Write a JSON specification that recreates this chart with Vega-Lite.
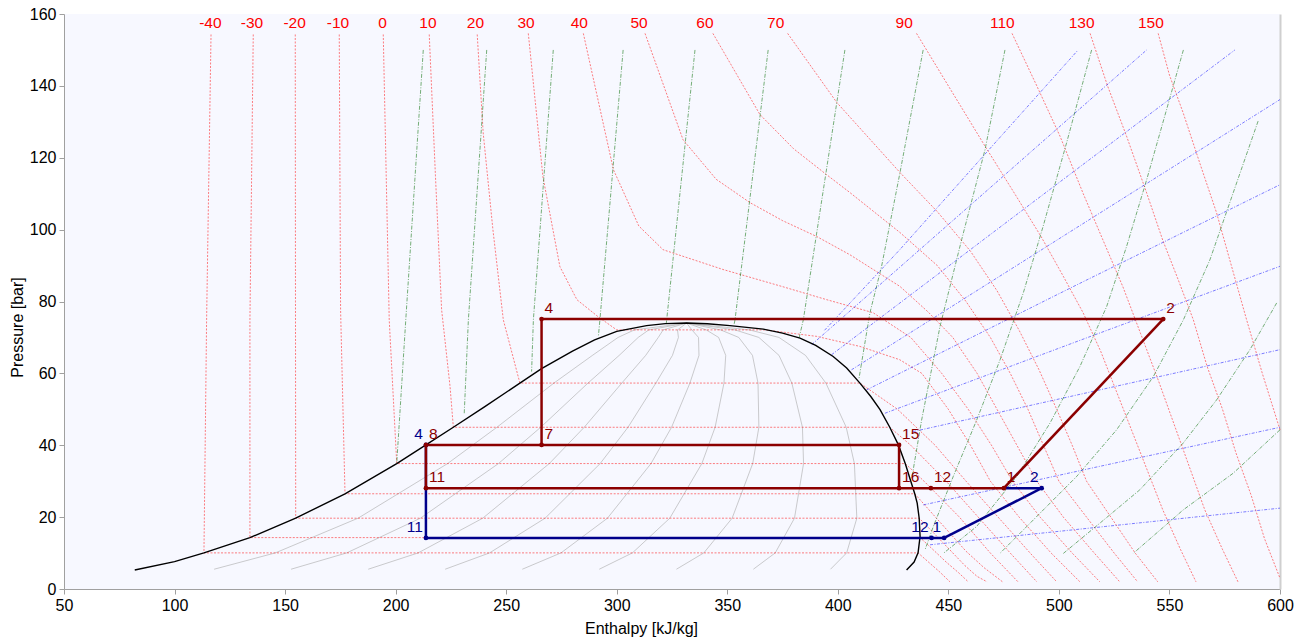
{
"$schema": "https://vega.github.io/schema/vega-lite/v6.json",
"width": 1216, "height": 575,
"autosize": {"type": "none"},
"padding": {"left": 64, "top": 14, "right": 23, "bottom": 53},
"background": "white",
"config": {
 "view": {"fill": "#F7F8FF", "stroke": null},
 "font": "Liberation Sans",
 "axis": {"grid": false, "labelFontSize": 16, "titleFontSize": 16, "titleFontWeight": "normal", "labelColor": "#000", "titleColor": "#000", "domainColor": "#A0A0A0", "tickColor": "#A0A0A0", "tickSize": 5, "labelPadding": 3}
},
"datasets": {
 "dome": [
  {"id":"d","i":0,"h":82,"p":5.3},{"id":"d","i":1,"h":100,"p":7.6},{"id":"d","i":2,"h":113.3,"p":10.05},{"id":"d","i":3,"h":134.1,"p":14.3},{"id":"d","i":4,"h":154.8,"p":19.7},{"id":"d","i":5,"h":177.1,"p":26.5},{"id":"d","i":6,"h":200.5,"p":34.9},{"id":"d","i":7,"h":213.7,"p":40.1},{"id":"d","i":8,"h":226.1,"p":45.0},{"id":"d","i":9,"h":240,"p":50.6},{"id":"d","i":10,"h":256.2,"p":57.3},{"id":"d","i":11,"h":266,"p":61.3},{"id":"d","i":12,"h":280,"p":66.2},{"id":"d","i":13,"h":290,"p":69.3},{"id":"d","i":14,"h":300,"p":71.7},{"id":"d","i":15,"h":313.5,"p":73.3},{"id":"d","i":16,"h":322,"p":73.85},{"id":"d","i":17,"h":331.6,"p":74.0},{"id":"d","i":18,"h":341,"p":73.8},{"id":"d","i":19,"h":351.2,"p":73.3},{"id":"d","i":20,"h":366.3,"p":72.3},{"id":"d","i":21,"h":375,"p":71.2},{"id":"d","i":22,"h":382.9,"p":69.8},{"id":"d","i":23,"h":390,"p":67.8},{"id":"d","i":24,"h":397.9,"p":64.7},{"id":"d","i":25,"h":404,"p":61.5},{"id":"d","i":26,"h":410,"p":57.3},{"id":"d","i":27,"h":415,"p":53.5},{"id":"d","i":28,"h":419.1,"p":49.9},{"id":"d","i":29,"h":423.5,"p":45.0},{"id":"d","i":30,"h":427.4,"p":40.1},{"id":"d","i":31,"h":430.5,"p":34.9},{"id":"d","i":32,"h":433,"p":30},{"id":"d","i":33,"h":434.8,"p":26.5},{"id":"d","i":34,"h":435.9,"p":23.9},{"id":"d","i":35,"h":436.8,"p":19.7},{"id":"d","i":36,"h":437.2,"p":14.6},{"id":"d","i":37,"h":436.3,"p":10.05},{"id":"d","i":38,"h":434.5,"p":7.5},{"id":"d","i":39,"h":431.1,"p":5.3}
 ],
 "qual": [
  {"id":"q1","i":0,"h":117.9,"p":5.5},{"id":"q1","i":1,"h":145.6,"p":10.05},{"id":"q1","i":2,"h":183,"p":19.7},{"id":"q1","i":3,"h":223.5,"p":34.9},{"id":"q1","i":4,"h":245.8,"p":45},{"id":"q1","i":5,"h":271.6,"p":57.3},{"id":"q1","i":6,"h":289,"p":65},{"id":"q1","i":7,"h":300.6,"p":70},{"id":"q1","i":8,"h":308,"p":72.1},{"id":"q1","i":9,"h":331.6,"p":74},
  {"id":"q2","i":0,"h":152.7,"p":5.5},{"id":"q2","i":1,"h":177.9,"p":10.05},{"id":"q2","i":2,"h":211.2,"p":19.7},{"id":"q2","i":3,"h":246.5,"p":34.9},{"id":"q2","i":4,"h":265.6,"p":45},{"id":"q2","i":5,"h":287,"p":57.3},{"id":"q2","i":6,"h":301.1,"p":65},{"id":"q2","i":7,"h":309.7,"p":70},{"id":"q2","i":8,"h":314.5,"p":72.1},{"id":"q2","i":9,"h":331.6,"p":74},
  {"id":"q3","i":0,"h":187.6,"p":5.5},{"id":"q3","i":1,"h":210.2,"p":10.05},{"id":"q3","i":2,"h":239.4,"p":19.7},{"id":"q3","i":3,"h":269.5,"p":34.9},{"id":"q3","i":4,"h":285.3,"p":45},{"id":"q3","i":5,"h":302.3,"p":57.3},{"id":"q3","i":6,"h":313.1,"p":65},{"id":"q3","i":7,"h":318.8,"p":70},{"id":"q3","i":8,"h":321,"p":72.1},{"id":"q3","i":9,"h":331.6,"p":74},
  {"id":"q4","i":0,"h":222.4,"p":5.5},{"id":"q4","i":1,"h":242.5,"p":10.05},{"id":"q4","i":2,"h":267.6,"p":19.7},{"id":"q4","i":3,"h":292.5,"p":34.9},{"id":"q4","i":4,"h":305.1,"p":45},{"id":"q4","i":5,"h":317.7,"p":57.3},{"id":"q4","i":6,"h":325.2,"p":65},{"id":"q4","i":7,"h":327.9,"p":70},{"id":"q4","i":8,"h":327.5,"p":72.1},{"id":"q4","i":9,"h":331.6,"p":74},
  {"id":"q5","i":0,"h":257.3,"p":5.5},{"id":"q5","i":1,"h":274.8,"p":10.05},{"id":"q5","i":2,"h":295.8,"p":19.7},{"id":"q5","i":3,"h":315.5,"p":34.9},{"id":"q5","i":4,"h":324.8,"p":45},{"id":"q5","i":5,"h":333.1,"p":57.3},{"id":"q5","i":6,"h":337.2,"p":65},{"id":"q5","i":7,"h":337,"p":70},{"id":"q5","i":8,"h":334,"p":72.1},{"id":"q5","i":9,"h":331.6,"p":74},
  {"id":"q6","i":0,"h":292.1,"p":5.5},{"id":"q6","i":1,"h":307.1,"p":10.05},{"id":"q6","i":2,"h":324,"p":19.7},{"id":"q6","i":3,"h":338.5,"p":34.9},{"id":"q6","i":4,"h":344.5,"p":45},{"id":"q6","i":5,"h":348.5,"p":57.3},{"id":"q6","i":6,"h":349.3,"p":65},{"id":"q6","i":7,"h":346.1,"p":70},{"id":"q6","i":8,"h":340.5,"p":72.1},{"id":"q6","i":9,"h":331.6,"p":74},
  {"id":"q7","i":0,"h":327,"p":5.5},{"id":"q7","i":1,"h":339.4,"p":10.05},{"id":"q7","i":2,"h":352.2,"p":19.7},{"id":"q7","i":3,"h":361.5,"p":34.9},{"id":"q7","i":4,"h":364.3,"p":45},{"id":"q7","i":5,"h":363.9,"p":57.3},{"id":"q7","i":6,"h":361.4,"p":65},{"id":"q7","i":7,"h":355.2,"p":70},{"id":"q7","i":8,"h":347,"p":72.1},{"id":"q7","i":9,"h":331.6,"p":74},
  {"id":"q8","i":0,"h":361.8,"p":5.5},{"id":"q8","i":1,"h":371.7,"p":10.05},{"id":"q8","i":2,"h":380.4,"p":19.7},{"id":"q8","i":3,"h":384.5,"p":34.9},{"id":"q8","i":4,"h":384,"p":45},{"id":"q8","i":5,"h":379.2,"p":57.3},{"id":"q8","i":6,"h":373.4,"p":65},{"id":"q8","i":7,"h":364.3,"p":70},{"id":"q8","i":8,"h":353.5,"p":72.1},{"id":"q8","i":9,"h":331.6,"p":74},
  {"id":"q9","i":0,"h":396.7,"p":5.5},{"id":"q9","i":1,"h":404,"p":10.05},{"id":"q9","i":2,"h":408.6,"p":19.7},{"id":"q9","i":3,"h":407.5,"p":34.9},{"id":"q9","i":4,"h":403.8,"p":45},{"id":"q9","i":5,"h":394.6,"p":57.3},{"id":"q9","i":6,"h":385.4,"p":65},{"id":"q9","i":7,"h":373.4,"p":70},{"id":"q9","i":8,"h":360,"p":72.1},{"id":"q9","i":9,"h":331.6,"p":74}
 ],
 "isoT": [
  {"id":"-40","i":0,"h":116.5,"p":154.3},{"id":"-40","i":1,"h":114.5,"p":74.9},{"id":"-40","i":2,"h":113.3,"p":10.05},{"id":"-40","i":3,"h":436.3,"p":10.05},{"id":"-40","i":4,"h":441,"p":7.5},{"id":"-40","i":5,"h":446,"p":4.8},{"id":"-40","i":6,"h":450.7,"p":2},
  {"id":"-30","i":0,"h":135.6,"p":154.3},{"id":"-30","i":1,"h":134.1,"p":74.9},{"id":"-30","i":2,"h":134.1,"p":14.3},{"id":"-30","i":3,"h":437.2,"p":14.3},{"id":"-30","i":4,"h":443,"p":11},{"id":"-30","i":5,"h":449,"p":7.5},{"id":"-30","i":6,"h":454.5,"p":4.6},{"id":"-30","i":7,"h":459,"p":2},
  {"id":"-20","i":0,"h":154.6,"p":154.3},{"id":"-20","i":1,"h":154.7,"p":80},{"id":"-20","i":2,"h":154.8,"p":19.7},{"id":"-20","i":3,"h":436.8,"p":19.7},{"id":"-20","i":4,"h":443.5,"p":15.5},{"id":"-20","i":5,"h":450.5,"p":11},{"id":"-20","i":6,"h":457.5,"p":6.5},{"id":"-20","i":7,"h":463,"p":3.5},{"id":"-20","i":8,"h":467.5,"p":2},
  {"id":"-10","i":0,"h":174.5,"p":154.3},{"id":"-10","i":1,"h":175.1,"p":77.7},{"id":"-10","i":2,"h":177.1,"p":26.5},{"id":"-10","i":3,"h":434.8,"p":26.5},{"id":"-10","i":4,"h":442,"p":21.5},{"id":"-10","i":5,"h":450,"p":16},{"id":"-10","i":6,"h":458,"p":10.5},{"id":"-10","i":7,"h":466,"p":6},{"id":"-10","i":8,"h":474.5,"p":2},
  {"id":"0","i":0,"h":194.4,"p":154.3},{"id":"0","i":1,"h":197.1,"p":74.9},{"id":"0","i":2,"h":200.5,"p":34.9},{"id":"0","i":3,"h":430.5,"p":34.9},{"id":"0","i":4,"h":439,"p":30},{"id":"0","i":5,"h":455,"p":20},{"id":"0","i":6,"h":469,"p":10},{"id":"0","i":7,"h":481.5,"p":2},
  {"id":"10","i":0,"h":215.2,"p":154.3},{"id":"10","i":1,"h":218,"p":115},{"id":"10","i":2,"h":220.8,"p":77.7},{"id":"10","i":3,"h":224.6,"p":56.4},{"id":"10","i":4,"h":226.1,"p":45},{"id":"10","i":5,"h":423.5,"p":45},{"id":"10","i":6,"h":433,"p":40},{"id":"10","i":7,"h":449,"p":30},{"id":"10","i":8,"h":463.5,"p":20},{"id":"10","i":9,"h":478,"p":10},{"id":"10","i":10,"h":490,"p":2},
  {"id":"20","i":0,"h":236.9,"p":154.3},{"id":"20","i":1,"h":239.6,"p":126.9},{"id":"20","i":2,"h":244,"p":100},{"id":"20","i":3,"h":248.7,"p":74.9},{"id":"20","i":4,"h":256.2,"p":57.3},{"id":"20","i":5,"h":410,"p":57.3},{"id":"20","i":6,"h":427,"p":50},{"id":"20","i":7,"h":444,"p":40},{"id":"20","i":8,"h":458,"p":30},{"id":"20","i":9,"h":472.5,"p":20},{"id":"20","i":10,"h":487,"p":10},{"id":"20","i":11,"h":499,"p":2},
  {"id":"30","i":0,"h":260,"p":154.6},{"id":"30","i":1,"h":266.6,"p":114.8},{"id":"30","i":2,"h":274.3,"p":89.7},{"id":"30","i":3,"h":282,"p":80.5},{"id":"30","i":4,"h":291.5,"p":75.8},{"id":"30","i":5,"h":300,"p":72.1},{"id":"30","i":6,"h":367,"p":72.1},{"id":"30","i":7,"h":390.4,"p":70.3},{"id":"30","i":8,"h":410,"p":67.5},{"id":"30","i":9,"h":428,"p":63.8},{"id":"30","i":10,"h":438,"p":60},{"id":"30","i":11,"h":450,"p":50},{"id":"30","i":12,"h":460,"p":40},{"id":"30","i":13,"h":469,"p":30},{"id":"30","i":14,"h":482,"p":20},{"id":"30","i":15,"h":496.5,"p":10},{"id":"30","i":16,"h":509.5,"p":2},
  {"id":"40","i":0,"h":284.9,"p":154.6},{"id":"40","i":1,"h":298.5,"p":116.7},{"id":"40","i":2,"h":310,"p":101},{"id":"40","i":3,"h":321,"p":94.4},{"id":"40","i":4,"h":348.1,"p":88.9},{"id":"40","i":5,"h":375.2,"p":84.1},{"id":"40","i":6,"h":395,"p":80.5},{"id":"40","i":7,"h":415.9,"p":76.9},{"id":"40","i":8,"h":433,"p":70},{"id":"40","i":9,"h":447,"p":60},{"id":"40","i":10,"h":459,"p":50},{"id":"40","i":11,"h":469.5,"p":40},{"id":"40","i":12,"h":479,"p":30},{"id":"40","i":13,"h":491.5,"p":20},{"id":"40","i":14,"h":506,"p":10},{"id":"40","i":15,"h":518.5,"p":2},
  {"id":"50","i":0,"h":312.8,"p":154.6},{"id":"50","i":1,"h":330,"p":125},{"id":"50","i":2,"h":345,"p":114},{"id":"50","i":3,"h":360.3,"p":107.5},{"id":"50","i":4,"h":375,"p":102.5},{"id":"50","i":5,"h":390.4,"p":98.1},{"id":"50","i":6,"h":405.5,"p":93},{"id":"50","i":7,"h":428.1,"p":84.2},{"id":"50","i":8,"h":441,"p":77},{"id":"50","i":9,"h":452,"p":70},{"id":"50","i":10,"h":463,"p":60},{"id":"50","i":11,"h":472,"p":50},{"id":"50","i":12,"h":481,"p":40},{"id":"50","i":13,"h":490,"p":30},{"id":"50","i":14,"h":502,"p":20},{"id":"50","i":15,"h":516,"p":10},{"id":"50","i":16,"h":527.5,"p":2},
  {"id":"60","i":0,"h":343.5,"p":154.6},{"id":"60","i":1,"h":364.8,"p":132},{"id":"60","i":2,"h":380,"p":122.5},{"id":"60","i":3,"h":394.9,"p":115.3},{"id":"60","i":4,"h":405.5,"p":110.3},{"id":"60","i":5,"h":428.1,"p":99.2},{"id":"60","i":6,"h":445,"p":90},{"id":"60","i":7,"h":458,"p":80},{"id":"60","i":8,"h":469,"p":70},{"id":"60","i":9,"h":478,"p":60},{"id":"60","i":10,"h":486,"p":50},{"id":"60","i":11,"h":493,"p":40},{"id":"60","i":12,"h":500,"p":30},{"id":"60","i":13,"h":512.5,"p":20},{"id":"60","i":14,"h":525,"p":10},{"id":"60","i":15,"h":535.6,"p":2},
  {"id":"70","i":0,"h":377.3,"p":154.6},{"id":"70","i":1,"h":399.5,"p":135.4},{"id":"70","i":2,"h":428.1,"p":115.9},{"id":"70","i":3,"h":445,"p":105},{"id":"70","i":4,"h":460,"p":94},{"id":"70","i":5,"h":472,"p":83},{"id":"70","i":6,"h":482,"p":72},{"id":"70","i":7,"h":491,"p":61},{"id":"70","i":8,"h":499,"p":50},{"id":"70","i":9,"h":506,"p":40},{"id":"70","i":10,"h":512.5,"p":30},{"id":"70","i":11,"h":523.5,"p":20},{"id":"70","i":12,"h":534.5,"p":10},{"id":"70","i":13,"h":544.7,"p":2},
  {"id":"90","i":0,"h":435.6,"p":154.6},{"id":"90","i":1,"h":450,"p":140},{"id":"90","i":2,"h":466.6,"p":123.2},{"id":"90","i":3,"h":480,"p":110},{"id":"90","i":4,"h":492,"p":98},{"id":"90","i":5,"h":502,"p":87},{"id":"90","i":6,"h":511,"p":76.8},{"id":"90","i":7,"h":519,"p":66},{"id":"90","i":8,"h":526,"p":55},{"id":"90","i":9,"h":533,"p":44},{"id":"90","i":10,"h":540,"p":33},{"id":"90","i":11,"h":547,"p":22},{"id":"90","i":12,"h":555,"p":11},{"id":"90","i":13,"h":562,"p":2},
  {"id":"110","i":0,"h":478.8,"p":154.6},{"id":"110","i":1,"h":490,"p":140},{"id":"110","i":2,"h":500.5,"p":126},{"id":"110","i":3,"h":511,"p":110},{"id":"110","i":4,"h":520,"p":97},{"id":"110","i":5,"h":529,"p":84},{"id":"110","i":6,"h":537,"p":71},{"id":"110","i":7,"h":545,"p":58},{"id":"110","i":8,"h":552,"p":46},{"id":"110","i":9,"h":559,"p":34},{"id":"110","i":10,"h":566,"p":22},{"id":"110","i":11,"h":574,"p":11},{"id":"110","i":12,"h":581,"p":2},
  {"id":"130","i":0,"h":514.1,"p":154.6},{"id":"130","i":1,"h":522,"p":140},{"id":"130","i":2,"h":530.6,"p":126},{"id":"130","i":3,"h":539.7,"p":110.2},{"id":"130","i":4,"h":547,"p":97},{"id":"130","i":5,"h":554,"p":86},{"id":"130","i":6,"h":560.8,"p":74.9},{"id":"130","i":7,"h":567,"p":62},{"id":"130","i":8,"h":574,"p":50},{"id":"130","i":9,"h":580,"p":38},{"id":"130","i":10,"h":587,"p":26},{"id":"130","i":11,"h":593,"p":14},{"id":"130","i":12,"h":600,"p":3},
  {"id":"150","i":0,"h":544.9,"p":154.6},{"id":"150","i":1,"h":550,"p":143},{"id":"150","i":2,"h":556.2,"p":132.5},{"id":"150","i":3,"h":564,"p":118},{"id":"150","i":4,"h":571.3,"p":104.7},{"id":"150","i":5,"h":578,"p":90},{"id":"150","i":6,"h":584.9,"p":74.9},{"id":"150","i":7,"h":592,"p":60},{"id":"150","i":8,"h":600,"p":44.3}
 ],
 "isoS": [
  {"id":"s1","i":0,"h":212.5,"p":150},{"id":"s1","i":1,"h":204.7,"p":76},{"id":"s1","i":2,"h":200.5,"p":35},
  {"id":"s2","i":0,"h":241.2,"p":150},{"id":"s2","i":1,"h":232.9,"p":74.9},{"id":"s2","i":2,"h":231,"p":48.5},
  {"id":"s3","i":0,"h":271.3,"p":150},{"id":"s3","i":1,"h":262.3,"p":74.9},{"id":"s3","i":2,"h":261.5,"p":60.5},
  {"id":"s4","i":0,"h":302.9,"p":150},{"id":"s4","i":1,"h":292.4,"p":74.9},{"id":"s4","i":2,"h":291.7,"p":70.3},
  {"id":"s5","i":0,"h":335.4,"p":150},{"id":"s5","i":1,"h":322.6,"p":74.9},{"id":"s5","i":2,"h":322.4,"p":73.9},
  {"id":"s6","i":0,"h":368.5,"p":150},{"id":"s6","i":1,"h":353.5,"p":74.9},{"id":"s6","i":2,"h":353,"p":73.4},
  {"id":"s7","i":0,"h":403.2,"p":150},{"id":"s7","i":1,"h":384.4,"p":74.9},{"id":"s7","i":2,"h":382.5,"p":69.9},
  {"id":"s8","i":0,"h":438.6,"p":150},{"id":"s8","i":1,"h":428.1,"p":115.8},{"id":"s8","i":2,"h":419.8,"p":89.8},{"id":"s8","i":3,"h":414.5,"p":76.8},{"id":"s8","i":4,"h":410.5,"p":62},{"id":"s8","i":5,"h":409.5,"p":58.3},
  {"id":"s9","i":0,"h":475.6,"p":150},{"id":"s9","i":1,"h":466.6,"p":122.3},{"id":"s9","i":2,"h":456,"p":97.2},{"id":"s9","i":3,"h":446.2,"p":73},{"id":"s9","i":4,"h":437.9,"p":47},{"id":"s9","i":5,"h":433.5,"p":31},
  {"id":"s10","i":0,"h":514.8,"p":150},{"id":"s10","i":1,"h":503.5,"p":124.2},{"id":"s10","i":2,"h":492.9,"p":101},{"id":"s10","i":3,"h":483.9,"p":82.4},{"id":"s10","i":4,"h":473.4,"p":63.8},{"id":"s10","i":5,"h":462.8,"p":47},{"id":"s10","i":6,"h":452.2,"p":31.3},{"id":"s10","i":7,"h":443.2,"p":17.4},{"id":"s10","i":8,"h":439.5,"p":11},
  {"id":"s11","i":0,"h":556.3,"p":150},{"id":"s11","i":1,"h":548.7,"p":133.4},{"id":"s11","i":2,"h":539.7,"p":113.9},{"id":"s11","i":3,"h":530.6,"p":95.3},{"id":"s11","i":4,"h":521.6,"p":78.6},{"id":"s11","i":5,"h":509.5,"p":61.9},{"id":"s11","i":6,"h":496,"p":46.2},{"id":"s11","i":7,"h":480.9,"p":31.3},{"id":"s11","i":8,"h":462.8,"p":17.4},{"id":"s11","i":9,"h":447.7,"p":9.9},
  {"id":"s12","i":0,"h":590.1,"p":130.2},{"id":"s12","i":1,"h":578.8,"p":110.2},{"id":"s12","i":2,"h":568.3,"p":91.6},{"id":"s12","i":3,"h":556.3,"p":74.9},{"id":"s12","i":4,"h":542.7,"p":59.1},{"id":"s12","i":5,"h":526.1,"p":44.3},{"id":"s12","i":6,"h":508,"p":31.3},{"id":"s12","i":7,"h":488.4,"p":19.2},{"id":"s12","i":8,"h":473.3,"p":9.9},
  {"id":"s13","i":0,"h":598.5,"p":79.6},{"id":"s13","i":1,"h":586.4,"p":66.6},{"id":"s13","i":2,"h":571.3,"p":52.6},{"id":"s13","i":3,"h":556.2,"p":40.6},{"id":"s13","i":4,"h":536.6,"p":27.6},{"id":"s13","i":5,"h":518.5,"p":18.3},{"id":"s13","i":6,"h":502,"p":9.9},
  {"id":"s14","i":0,"h":600,"p":44.3},{"id":"s14","i":1,"h":578.8,"p":32.2},{"id":"s14","i":2,"h":556.2,"p":22},{"id":"s14","i":3,"h":533.6,"p":9.9}
 ],
 "isoV": [
  {"id":"va","i":0,"h":394,"p":72},{"id":"va","i":1,"h":428,"p":94.4},{"id":"va","i":2,"h":468,"p":122},{"id":"va","i":3,"h":508.7,"p":150},
  {"id":"vb","i":0,"h":388.2,"p":68},{"id":"vb","i":1,"h":464,"p":109},{"id":"vb","i":2,"h":539.7,"p":150},
  {"id":"vc","i":0,"h":397.2,"p":65.2},{"id":"vc","i":1,"h":488,"p":107.5},{"id":"vc","i":2,"h":579.6,"p":150},
  {"id":"vd","i":0,"h":406.2,"p":61},{"id":"vd","i":1,"h":503,"p":98.6},{"id":"vd","i":2,"h":600,"p":136.2},
  {"id":"ve","i":0,"h":413,"p":55.4},{"id":"ve","i":1,"h":506,"p":84},{"id":"ve","i":2,"h":600,"p":112.5},
  {"id":"vf","i":0,"h":421.3,"p":48.9},{"id":"vf","i":1,"h":510,"p":69.3},{"id":"vf","i":2,"h":600,"p":89.8},
  {"id":"vg","i":0,"h":434.1,"p":43.8},{"id":"vg","i":1,"h":517,"p":55.2},{"id":"vg","i":2,"h":600,"p":66.6},
  {"id":"vh","i":0,"h":438.7,"p":23.4},{"id":"vh","i":1,"h":519,"p":34.2},{"id":"vh","i":2,"h":600,"p":45},
  {"id":"vi","i":0,"h":441.7,"p":12.3},{"id":"vi","i":1,"h":521,"p":17.4},{"id":"vi","i":2,"h":600,"p":22.5}
 ],
 "tlab": [
  {"t":"-40","h":116.2,"p":157.4},{"t":"-30","h":135,"p":157.4},{"t":"-20","h":154.3,"p":157.4},{"t":"-10","h":173.9,"p":157.4},{"t":"0","h":194.1,"p":157.4},{"t":"10","h":214.6,"p":157.4},{"t":"20","h":236.1,"p":157.4},{"t":"30","h":259,"p":157.4},{"t":"40","h":283.1,"p":157.4},{"t":"50","h":310.1,"p":157.4},{"t":"60","h":339.9,"p":157.4},{"t":"70","h":371.9,"p":157.4},{"t":"90","h":430,"p":157.4},{"t":"110","h":474.4,"p":157.4},{"t":"130","h":510.3,"p":157.4},{"t":"150","h":541.6,"p":157.4}
 ],
 "segs": [
  {"cyc":"low","h":213.7,"p":40.1,"h2":213.7,"p2":14.2},
  {"cyc":"low","h":213.7,"p":14.2,"h2":448.1,"p2":14.2},
  {"cyc":"low","h":448.1,"p":14.2,"h2":492.2,"p2":28.05},
  {"cyc":"low","h":492.2,"p":28.05,"h2":475.1,"p2":28.05},
  {"cyc":"high","h":266,"p":75.1,"h2":547.2,"p2":75.1},
  {"cyc":"high","h":547.2,"p":75.1,"h2":475.1,"p2":28.05},
  {"cyc":"high","h":475.1,"p":28.05,"h2":427.7,"p2":28.05},
  {"cyc":"high","h":427.7,"p":28.05,"h2":427.7,"p2":40.1},
  {"cyc":"high","h":427.7,"p":40.1,"h2":213.7,"p2":40.1},
  {"cyc":"high","h":213.7,"p":40.1,"h2":213.7,"p2":28.05},
  {"cyc":"high","h":213.7,"p":28.05,"h2":427.7,"p2":28.05},
  {"cyc":"high","h":266,"p":75.1,"h2":266,"p2":40.1}
 ],
 "pts": [
  {"cyc":"low","n":"4","h":213.7,"p":40.1},{"cyc":"low","n":"11","h":213.7,"p":14.2},{"cyc":"low","n":"12","h":442.4,"p":14.2},{"cyc":"low","n":"1","h":448.1,"p":14.2},{"cyc":"low","n":"2","h":492.2,"p":28.05},
  {"cyc":"high","n":"4","h":266,"p":75.1},{"cyc":"high","n":"2","h":547.2,"p":75.1},{"cyc":"high","n":"1","h":475.1,"p":28.05},{"cyc":"high","n":"12","h":442.1,"p":28.05},{"cyc":"high","n":"16","h":427.7,"p":28.05},{"cyc":"high","n":"15","h":427.7,"p":40.1},{"cyc":"high","n":"7","h":266,"p":40.1},{"cyc":"high","n":"8","h":213.7,"p":40.1},{"cyc":"high","n":"11","h":213.7,"p":28.05}
 ]
},
"encoding": {
 "x": {"field": "h", "type": "quantitative", "scale": {"domain": [50, 600], "nice": false, "zero": false},
  "axis": {"title": "Enthalpy [kJ/kg]", "values": [50,100,150,200,250,300,350,400,450,500,550,600], "titlePadding": 7, "labelFlush": false, "titleX": 577, "titleAnchor": null, "titleAlign": "center"}},
 "y": {"field": "p", "type": "quantitative", "scale": {"domain": [0, 160], "nice": false, "zero": false}, "axis": null}
},
"layer": [
 {"data": {"name": "qual"}, "mark": {"type": "line", "stroke": "#A9A9A9", "strokeWidth": 0.8, "opacity": 0.75},
  "encoding": {"detail": {"field": "id"}, "order": {"field": "i"},
   "y": {"field": "p", "type": "quantitative", "scale": {"domain": [0, 160], "nice": false, "zero": false},
    "axis": {"orient": "left", "title": "Pressure [bar]", "values": [0,20,40,60,80,100,120,140,160], "titlePadding": 4, "titleY": 313, "titleAlign": "center"}}}},
 {"data": {"name": "isoT"}, "mark": {"type": "line", "stroke": "#FF0000", "strokeWidth": 1, "strokeDash": [2, 1.5], "opacity": 0.5},
  "encoding": {"detail": {"field": "id"}, "order": {"field": "i"}}},
 {"data": {"name": "isoS"}, "mark": {"type": "line", "stroke": "#1E7B1E", "strokeWidth": 1, "strokeDash": [4, 1.5, 1, 1.5], "opacity": 0.6},
  "encoding": {"detail": {"field": "id"}, "order": {"field": "i"}}},
 {"data": {"name": "isoV"}, "mark": {"type": "line", "stroke": "#0000FF", "strokeWidth": 1, "strokeDash": [3, 1.5, 1, 1.5], "opacity": 0.5},
  "encoding": {"detail": {"field": "id"}, "order": {"field": "i"}}},
 {"data": {"name": "dome"}, "mark": {"type": "line", "stroke": "#000000", "strokeWidth": 1.4},
  "encoding": {"order": {"field": "i"},
   "y": {"field": "p", "type": "quantitative", "scale": {"domain": [0, 160], "nice": false, "zero": false},
    "axis": {"orient": "right", "title": null, "labels": false, "ticks": false, "domainColor": "#CFCFCF", "domainWidth": 2}}}},
 {"data": {"name": "segs"}, "transform": [{"filter": "datum.cyc == 'low'"}], "mark": {"type": "rule", "stroke": "#00008B", "strokeWidth": 2.5},
  "encoding": {"x2": {"field": "h2"}, "y2": {"field": "p2"}}},
 {"data": {"name": "segs"}, "transform": [{"filter": "datum.cyc == 'high'"}], "mark": {"type": "rule", "stroke": "#8B0000", "strokeWidth": 2.5},
  "encoding": {"x2": {"field": "h2"}, "y2": {"field": "p2"}}},
 {"data": {"name": "pts"}, "mark": {"type": "point", "filled": true, "size": 22, "opacity": 1},
  "encoding": {"color": {"field": "cyc", "type": "nominal", "scale": {"domain": ["high", "low"], "range": ["#8B0000", "#00008B"]}, "legend": null}}},
 {"data": {"name": "pts"}, "transform": [{"filter": "datum.cyc == 'high'"}], "mark": {"type": "text", "align": "left", "baseline": "middle", "dx": 3, "dy": -11, "fontSize": 15.5, "color": "#8B0000"},
  "encoding": {"text": {"field": "n"}}},
 {"data": {"name": "pts"}, "transform": [{"filter": "datum.cyc == 'low'"}], "mark": {"type": "text", "align": "right", "baseline": "middle", "dx": -3, "dy": -11, "fontSize": 15.5, "color": "#00008B"},
  "encoding": {"text": {"field": "n"}}},
 {"data": {"name": "tlab"}, "mark": {"type": "text", "align": "center", "baseline": "middle", "fontSize": 15.5, "color": "#FF0000"},
  "encoding": {"text": {"field": "t"}}}
],
"resolve": {"axis": {"y": "independent"}}
}
